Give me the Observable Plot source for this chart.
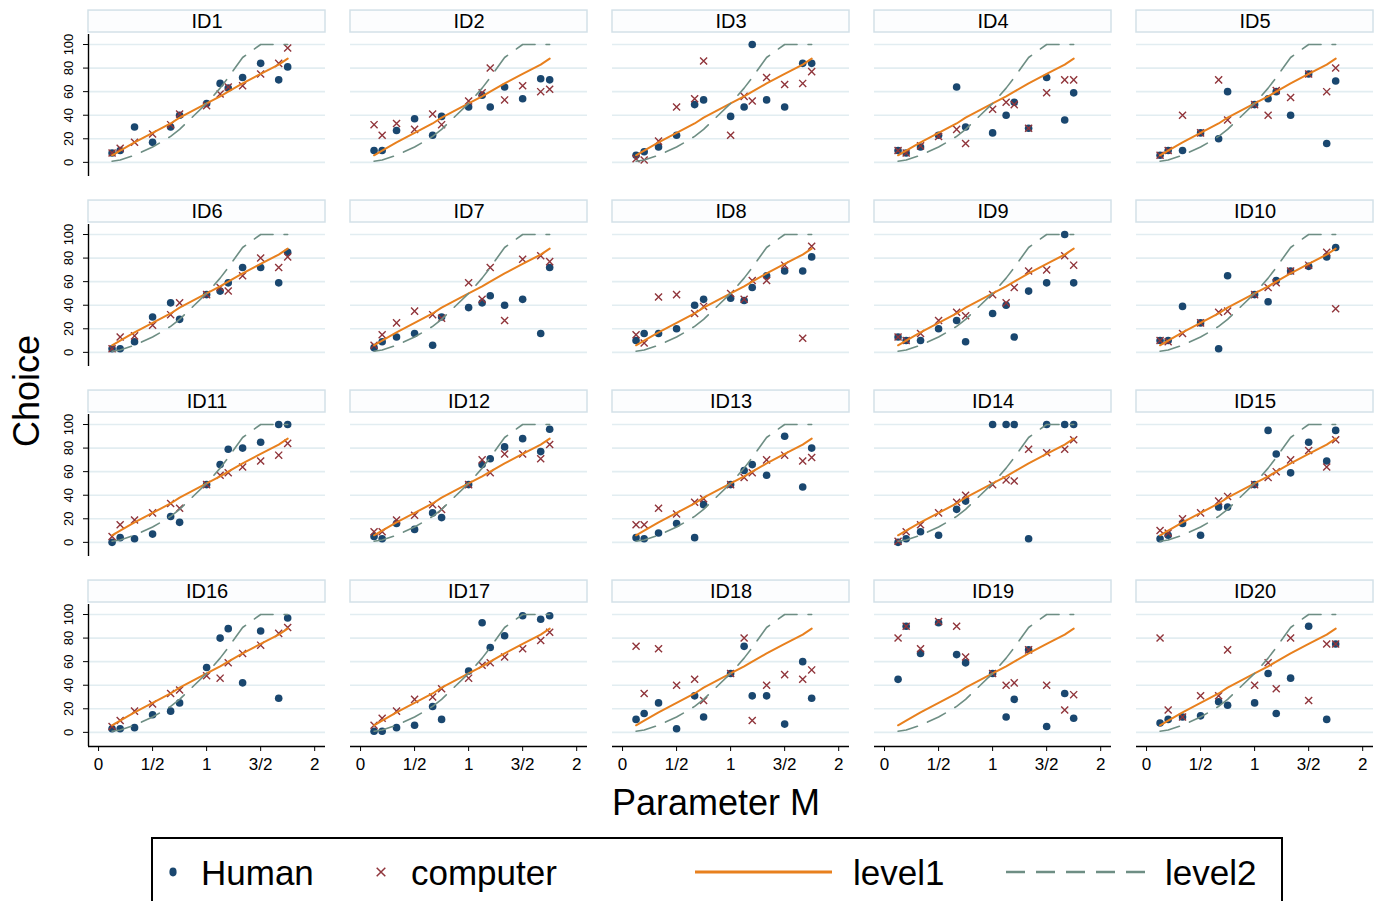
<!DOCTYPE html>
<html>
<head>
<meta charset="utf-8">
<script src="https://cdn.jsdelivr.net/npm/d3@7"></script>
<script src="https://cdn.jsdelivr.net/npm/@observablehq/plot@0.6"></script>
<style>
html,body{margin:0;padding:0;background:#fff;}
#wrap{position:relative;width:1383px;height:901px;overflow:hidden;font-family:"Liberation Sans",Arial,sans-serif;color:#000;}
#chart{position:absolute;left:0;top:0;}
.ytitle{position:absolute;left:27px;top:391px;transform:translate(-50%,-50%) rotate(-90deg);font-size:36px;white-space:nowrap;line-height:1;}
.xtitle{position:absolute;left:716px;top:803px;transform:translate(-50%,-50%);font-size:36px;white-space:nowrap;line-height:1;}
#legend{position:absolute;left:0;top:0;}
</style>
</head>
<body>
<div id="wrap">
  <div id="chart"></div>
  <div class="ytitle">Choice</div>
  <div class="xtitle">Parameter M</div>
  <svg id="legend" width="1383" height="901"></svg>
</div>
<script>
// ---- data ----
const ids = ["ID1","ID2","ID3","ID4","ID5","ID6","ID7","ID8","ID9","ID10",
             "ID11","ID12","ID13","ID14","ID15","ID16","ID17","ID18","ID19","ID20"];
const paramM = [0.125, 0.2, 0.333, 0.5, 0.667, 0.75, 1, 1.125, 1.2, 1.333, 1.5, 1.667, 1.75];
const level1 = [6, 10, 17, 25, 33, 38, 50, 56, 60, 67, 75, 83, 88];
const level2 = [1, 2, 6, 13, 22, 28, 50, 63, 72, 89, 100, 100, 100];
const human = [
  [8, 10, 30, 17, 30, 40, 50, 67, 63, 72, 84, 70, 81],
  [10, 10, 27, 37, 23, 39, 47, 57, 47, 64, 54, 71, 70],
  [6, 9, 13, 23, 49, 53, 39, 47, 100, 53, 47, 84, 84],
  [10, 8, 13, 23, 64, 30, 25, 40, 51, 29, 72, 36, 59],
  [6, 10, 10, 25, 20, 60, 49, 54, 60, 40, 75, 16, 69],
  [3, 3, 9, 30, 42, 28, 49, 52, 59, 72, 72, 59, 85],
  [4, 9, 13, 16, 6, 30, 38, 42, 48, 40, 45, 16, 72],
  [10, 16, 16, 20, 40, 45, 46, 44, 55, 65, 69, 69, 81],
  [13, 10, 10, 20, 27, 9, 33, 40, 13, 52, 59, 100, 59],
  [10, 10, 39, 25, 3, 65, 49, 43, 61, 69, 73, 81, 89],
  [0, 4, 3, 7, 22, 17, 49, 66, 79, 80, 85, 100, 100],
  [5, 3, 16, 11, 25, 21, 49, 66, 71, 81, 88, 77, 96],
  [4, 3, 8, 16, 4, 32, 49, 61, 66, 57, 90, 47, 80],
  [0, 3, 9, 6, 28, 35, 100, 100, 100, 3, 100, 100, 100],
  [3, 6, 16, 6, 30, 30, 49, 95, 75, 59, 85, 69, 95],
  [3, 3, 4, 15, 18, 25, 55, 80, 88, 42, 86, 29, 97],
  [1, 1, 4, 6, 22, 11, 52, 93, 72, 82, 99, 96, 99],
  [11, 16, 25, 3, 31, 13, 50, 73, 31, 31, 7, 60, 29],
  [45, 90, 67, 93, 66, 59, 50, 13, 28, 70, 5, 33, 12],
  [8, 11, 13, 14, 26, 23, 25, 50, 16, 46, 90, 11, 75]
];
const computer = [
  [8, 12, 17, 24, 32, 41, 48, 58, 64, 65, 75, 84, 97],
  [32, 23, 33, 28, 41, 32, 52, 59, 80, 53, 65, 60, 62],
  [3, 2, 18, 47, 54, 86, 23, 56, 52, 72, 66, 67, 77],
  [10, 8, 14, 22, 28, 16, 45, 51, 49, 29, 59, 70, 70],
  [6, 10, 40, 25, 70, 36, 49, 40, 61, 55, 75, 60, 80],
  [3, 13, 14, 23, 32, 42, 49, 55, 52, 65, 80, 72, 81],
  [6, 15, 25, 35, 32, 29, 59, 45, 72, 27, 79, 82, 77],
  [15, 8, 47, 49, 33, 39, 50, 45, 61, 61, 74, 12, 90],
  [13, 10, 16, 27, 34, 31, 49, 42, 55, 69, 70, 82, 74],
  [10, 9, 16, 25, 34, 35, 49, 55, 59, 69, 74, 85, 37],
  [5, 15, 19, 25, 33, 29, 49, 57, 59, 64, 69, 74, 84],
  [9, 9, 19, 23, 32, 28, 49, 70, 59, 75, 75, 71, 83],
  [15, 15, 29, 24, 34, 37, 49, 55, 59, 70, 74, 69, 72],
  [1, 9, 15, 25, 34, 40, 49, 53, 52, 79, 76, 79, 87],
  [10, 8, 20, 25, 35, 39, 49, 55, 60, 70, 78, 64, 87],
  [5, 10, 18, 24, 33, 36, 48, 46, 59, 67, 74, 84, 89],
  [6, 12, 18, 28, 30, 37, 46, 57, 59, 64, 71, 78, 85],
  [73, 33, 71, 40, 45, 27, 50, 80, 10, 40, 49, 45, 53],
  [80, 90, 71, 94, 90, 64, 50, 40, 42, 70, 40, 19, 32],
  [80, 19, 13, 31, 31, 70, 40, 59, 37, 80, 27, 75, 75]
];
const xTicks = [0, 0.5, 1, 1.5, 2];
const xTickLabels = ["0", "1/2", "1", "3/2", "2"];
const yTicks = [0, 20, 40, 60, 80, 100];
const seriesNames = ["Human", "computer", "level1", "level2"];

// ---- styling ----
const NAVY = "#1a476f", MAROON = "#90353b", ORANGE = "#e8801e", TEAL = "#6e8e84";
const GRID = "#e2edf1", STRIP_STROKE = "#d3e1e8";
const X_DOMAIN = [-0.093, 2.1];
const Y_DOMAIN = [-12, 108.5];

// ---- tables built from the arrays ----
const panels = ids.map((label, i) => ({label, col: i % 5, row: Math.floor(i / 5)}));
const humanRows = [], compRows = [], lineRows = [];
panels.forEach((p, i) => {
  paramM.forEach((m, j) => {
    humanRows.push({col: p.col, row: p.row, m, v: human[i][j]});
    compRows.push({col: p.col, row: p.row, m, v: computer[i][j]});
    lineRows.push({id: p.label, col: p.col, row: p.row, m, l1: level1[j], l2: level2[j]});
  });
});
const fc = {fx: "col", fy: "row"};

const chart = Plot.plot({
  width: 1383,
  height: 790,
  marginLeft: 88,
  marginRight: 10,
  marginTop: 34,
  marginBottom: 44,
  style: {fontFamily: "'Liberation Sans', Arial, sans-serif", background: "transparent", color: "#000"},
  fx: {domain: [0, 1, 2, 3, 4], paddingInner: 25 / 262, paddingOuter: 0, axis: null, round: false},
  fy: {domain: [0, 1, 2, 3], paddingInner: 48 / 190, paddingOuter: 0, axis: null, round: false},
  x: {domain: X_DOMAIN},
  y: {domain: Y_DOMAIN},
  marks: [
    Plot.gridY(yTicks, {stroke: GRID, strokeOpacity: 1, strokeWidth: 1.6}),
    Plot.rect(panels, {x1: () => X_DOMAIN[0], x2: () => X_DOMAIN[1], y1: () => 110.2, y2: () => 128.8,
      ...fc, fill: "#fcfdfe", stroke: STRIP_STROKE, strokeWidth: 1.5}),
    Plot.text(panels, {x: () => (X_DOMAIN[0] + X_DOMAIN[1]) / 2, y: () => 119.3, text: "label",
      ...fc, fontSize: 20, fill: "#000"}),
    Plot.ruleX(panels.filter(p => p.col === 0), {x: () => X_DOMAIN[0], ...fc, stroke: "#000", strokeWidth: 1.4}),
    Plot.ruleY(panels.filter(p => p.row === 3), {y: () => Y_DOMAIN[0], ...fc, stroke: "#000", strokeWidth: 1.4}),
    Plot.axisY({ticks: yTicks, tickSize: 5, tickRotate: -90, tickPadding: 11, fontSize: 13, label: null,
      tickFormat: d => String(d)}),
    Plot.axisX({ticks: xTicks, tickSize: 5, tickPadding: 6, fontSize: 17, label: null,
      tickFormat: d => xTickLabels[xTicks.indexOf(d)]}),
    Plot.dot(humanRows, {x: "m", y: "v", ...fc, fill: NAVY, r: 3.8}),
    Plot.dot(compRows, {x: "m", y: "v", ...fc, symbol: "times", stroke: MAROON, r: 3.3, strokeWidth: 1.4}),
    Plot.line(lineRows, {x: "m", y: "l1", z: "id", ...fc, stroke: ORANGE, strokeWidth: 2}),
    Plot.line(lineRows, {x: "m", y: "l2", z: "id", ...fc, stroke: TEAL, strokeWidth: 1.6, strokeDasharray: "20,11"})
  ]
});
document.getElementById("chart").appendChild(chart);

// ---- legend ----
const lg = d3.select("#legend");
lg.append("rect").attr("x", 152).attr("y", 838).attr("width", 1130).attr("height", 80)
  .attr("fill", "#fff").attr("stroke", "#000").attr("stroke-width", 2);
const cy = 872;
lg.append("ellipse").attr("cx", 173).attr("cy", cy).attr("rx", 3.6).attr("ry", 4.4).attr("fill", NAVY);
lg.append("path").attr("d", d3.symbol(d3.symbolTimes, 50)()).attr("transform", `translate(381,${cy})`)
  .attr("stroke", MAROON).attr("stroke-width", 1.5).attr("fill", "none");
lg.append("line").attr("x1", 695).attr("x2", 832).attr("y1", cy).attr("y2", cy)
  .attr("stroke", ORANGE).attr("stroke-width", 3);
lg.append("line").attr("x1", 1006).attr("x2", 1146).attr("y1", cy).attr("y2", cy)
  .attr("stroke", TEAL).attr("stroke-width", 2.5).attr("stroke-dasharray", "19,11");
const textX = [201, 411, 853, 1165];
seriesNames.forEach((s, i) => {
  lg.append("text").attr("x", textX[i]).attr("y", cy + 12.5).text(s)
    .attr("font-size", 35).attr("font-family", "'Liberation Sans', Arial, sans-serif").attr("fill", "#000");
});
</script>
</body>
</html>
